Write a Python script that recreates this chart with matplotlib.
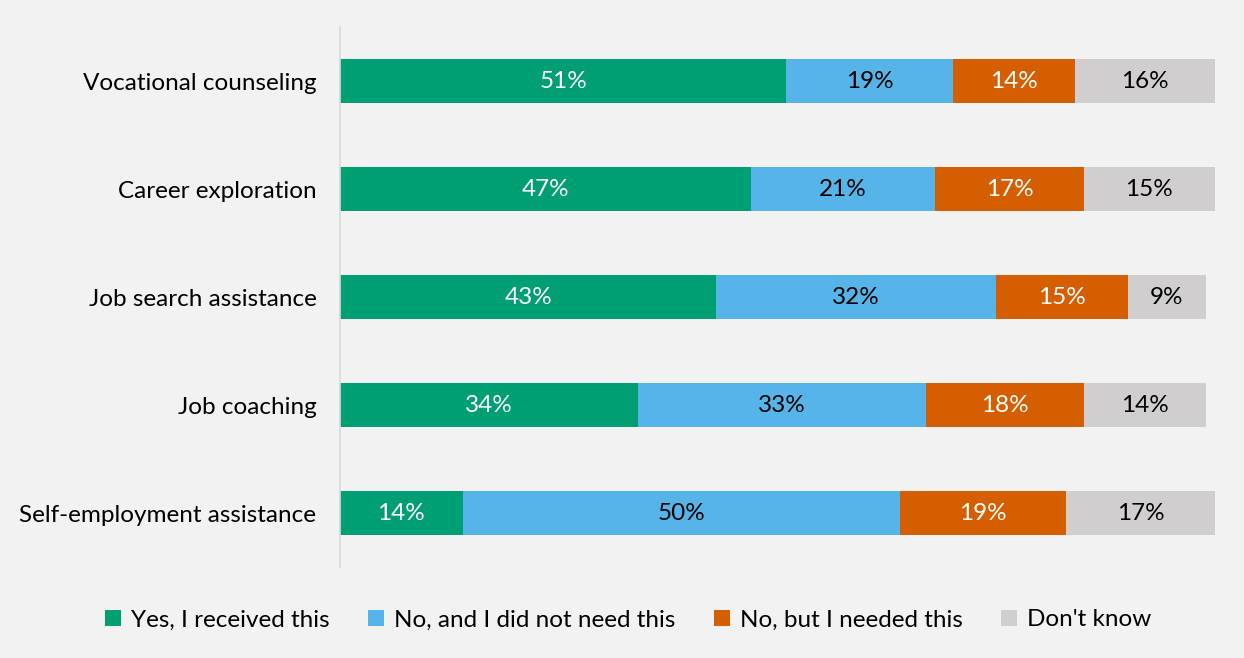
import numpy as np
import matplotlib.pyplot as plt
from matplotlib.patches import Patch

plt.rcParams['font.family'] = ['Lato', 'DejaVu Sans']

services = ['Vocational counseling', 'Career exploration', 'Job search assistance',
            'Job coaching', 'Self-employment assistance']
received = [51, 47, 43, 34, 14]
not_needed = [19, 21, 32, 33, 50]
needed = [14, 17, 15, 18, 19]
dont_know = [16, 15, 9, 14, 17]

series = [
    ('Yes, I received this', received, '#009E73', 'white'),
    ('No, and I did not need this', not_needed, '#56B4E9', 'black'),
    ('No, but I needed this', needed, '#D55E00', 'white'),
    ("Don't know", dont_know, '#D0CECE', 'black'),
]

bg = '#F2F2F2'
fig = plt.figure(figsize=(12.44, 6.58), dpi=100, facecolor=bg)
ax = fig.add_axes([340/1244, 1-567/658, 875/1244, 540/658], facecolor=bg)

y = np.arange(len(services))
left = np.zeros(len(services))
handles = []
for name, vals, col, tcol in series:
    vals = np.array(vals, dtype=float)
    ax.barh(y, vals, left=left, height=0.4, color=col, edgecolor='none')
    for yi, l, v in zip(y, left, vals):
        ax.text(l + v/2, yi, f'{int(v)}%', ha='center', va='center',
                color=tcol, fontsize=17.5)
    left += vals
    handles.append(Patch(facecolor=col, edgecolor='none', label=name))

ax.set_xlim(0, 100)
ax.set_ylim(len(services) - 0.5, -0.5)
ax.set_yticks(y)
ax.set_yticklabels(services, fontsize=17.5)
ax.tick_params(axis='y', length=0, pad=17)
ax.set_xticks([])
for s in ['top', 'right', 'bottom']:
    ax.spines[s].set_visible(False)
ax.spines['left'].set_color('#D9D9D9')
ax.spines['left'].set_linewidth(1.2)

fig.legend(handles=handles, loc='center', bbox_to_anchor=(0.505, 1-620/658),
           ncol=4, frameon=False, fontsize=17.5, handlelength=0.65,
           handleheight=0.65, handletextpad=0.4, columnspacing=1.6)

fig.savefig('out.png', dpi=100, facecolor=bg)
